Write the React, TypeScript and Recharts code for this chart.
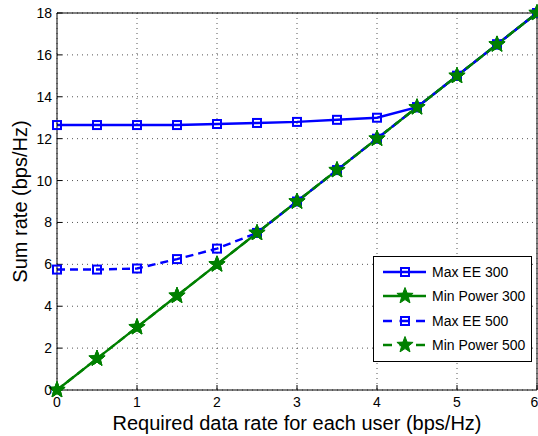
import React from "react";
import {
  LineChart,
  Line,
  XAxis,
  YAxis,
  CartesianGrid,
  Legend,
} from "recharts";

const rates = [0, 0.5, 1, 1.5, 2, 2.5, 3, 3.5, 4, 4.5, 5, 5.5, 6];
const maxEE300 = [12.65, 12.65, 12.65, 12.65, 12.7, 12.75, 12.8, 12.9, 13.0, 13.5, 15, 16.5, 18];
const minPower300 = [0, 1.5, 3, 4.5, 6, 7.5, 9, 10.5, 12, 13.5, 15, 16.5, 18];
const maxEE500 = [5.75, 5.75, 5.8, 6.25, 6.75, 7.5, 9, 10.5, 12, 13.5, 15, 16.5, 18];
const minPower500 = [0, 1.5, 3, 4.5, 6, 7.5, 9, 10.5, 12, 13.5, 15, 16.5, 18];

const xTicks = [0, 1, 2, 3, 4, 5, 6];
const yTicks = [0, 2, 4, 6, 8, 10, 12, 14, 16, 18];

const BLUE = "#0000ff";
const GREEN = "#008000";
const FONT = "'Liberation Sans', Arial, Helvetica, sans-serif";

const data = rates.map((x, i) => ({
  x,
  maxEE300: maxEE300[i],
  minPower300: minPower300[i],
  maxEE500: maxEE500[i],
  minPower500: minPower500[i],
}));

function starPoints(cx: number, cy: number, ro: number, ri: number) {
  const pts: string[] = [];
  for (let k = 0; k < 10; k++) {
    const r = k % 2 === 0 ? ro : ri;
    const a = -Math.PI / 2 + (k * Math.PI) / 5;
    pts.push(`${cx + r * Math.cos(a)},${cy + r * Math.sin(a)}`);
  }
  return pts.join(" ");
}

const SquareMark = ({ cx, cy, color }: { cx: number; cy: number; color: string }) => (
  <rect x={cx - 4} y={cy - 4} width={8} height={8} fill="none" stroke={color} strokeWidth={2} />
);

const StarMark = ({ cx, cy, color }: { cx: number; cy: number; color: string }) => (
  <polygon points={starPoints(cx, cy, 8.5, 3.6)} fill={color} stroke={color} strokeWidth={1} />
);

const series = [
  { key: "maxEE300", name: "Max EE 300", color: BLUE, dash: undefined as string | undefined, marker: "square" },
  { key: "minPower300", name: "Min Power 300", color: GREEN, dash: undefined as string | undefined, marker: "star" },
  { key: "maxEE500", name: "Max EE 500", color: BLUE, dash: "8 5", marker: "square" },
  { key: "minPower500", name: "Min Power 500", color: GREEN, dash: "8 5", marker: "star" },
];

const renderDot = (marker: string, color: string) => (props: any) => {
  const { cx, cy, index } = props;
  if (cx == null || cy == null) return <g key={index} />;
  return (
    <g key={index}>
      {marker === "square" ? (
        <SquareMark cx={cx} cy={cy} color={color} />
      ) : (
        <StarMark cx={cx} cy={cy} color={color} />
      )}
    </g>
  );
};

const LegendBox = () => (
  <div
    style={{
      border: "1px solid #000",
      background: "#fff",
      width: 157,
      height: 101,
      boxSizing: "content-box",
      paddingTop: 3,
      fontFamily: FONT,
      fontSize: 14,
      color: "#000",
    }}
  >
    {series.map((s) => (
      <div key={s.key} style={{ display: "flex", alignItems: "center", height: 24.3 }}>
        <svg width={58} height={20} style={{ flex: "none" }}>
          <line
            x1={9}
            y1={10}
            x2={52}
            y2={10}
            stroke={s.color}
            strokeWidth={2.4}
            strokeDasharray={s.dash ? "9 7.5" : undefined}
          />
          {s.marker === "square" ? (
            <SquareMark cx={31} cy={10} color={s.color} />
          ) : (
            <StarMark cx={31} cy={10} color={s.color} />
          )}
        </svg>
        <span style={{ whiteSpace: "nowrap" }}>{s.name}</span>
      </div>
    ))}
  </div>
);

const YLabel = (props: any) => {
  const vb = props.viewBox || {};
  const x = (vb.x ?? 0) + 20;
  const y = (vb.y ?? 0) + (vb.height ?? 0) / 2;
  return (
    <text
      x={x}
      y={y}
      transform={`rotate(-90, ${x}, ${y})`}
      textAnchor="middle"
      dominantBaseline="central"
      fontFamily={FONT}
      fontSize={20}
      fill="#000"
    >
      Sum rate (bps/Hz)
    </text>
  );
};

const XLabel = (props: any) => {
  const vb = props.viewBox || {};
  const x = (vb.x ?? 0) + (vb.width ?? 0) / 2;
  const y = (vb.y ?? 0) + 33;
  return (
    <text
      x={x}
      y={y}
      textAnchor="middle"
      dominantBaseline="central"
      fontFamily={FONT}
      fontSize={20}
      fill="#000"
    >
      Required data rate for each user (bps/Hz)
    </text>
  );
};

export default function App() {
  return (
    <div style={{ position: "absolute", left: 0, top: 0, width: 538, height: 436, background: "#fff" }}>
      <LineChart
        width={538}
        height={436}
        data={data}
        margin={{ top: 12, right: 0, bottom: 0, left: 0 }}
      >
        <CartesianGrid stroke="#555" strokeDasharray="1 4" />
        <XAxis
          dataKey="x"
          type="number"
          domain={[0, 6]}
          ticks={xTicks}
          height={46}
          stroke="#000"
          tickSize={-5}
          tickMargin={12}
          tick={{ fill: "#000", fontSize: 14, fontFamily: FONT }}
          label={<XLabel />}
        />
        <XAxis
          xAxisId="top"
          dataKey="x"
          type="number"
          orientation="top"
          domain={[0, 6]}
          ticks={xTicks}
          height={1}
          stroke="#000"
          tickSize={-5}
          tick={false}
        />
        <YAxis
          type="number"
          domain={[0, 18]}
          ticks={yTicks}
          width={57}
          stroke="#000"
          tickSize={-5}
          tickMargin={10}
          tick={{ fill: "#000", fontSize: 14, fontFamily: FONT }}
          label={<YLabel />}
        />
        <YAxis
          yAxisId="right"
          type="number"
          orientation="right"
          domain={[0, 18]}
          ticks={yTicks}
          width={1}
          stroke="#000"
          tickSize={-5}
          tick={false}
        />
        {series.map((s) => (
          <Line
            key={s.key}
            type="linear"
            dataKey={s.key}
            name={s.name}
            stroke={s.color}
            strokeWidth={2.4}
            strokeDasharray={s.dash}
            dot={renderDot(s.marker, s.color)}
            activeDot={false}
            isAnimationActive={false}
          />
        ))}
        <Legend
          layout="vertical"
          align="center"
          verticalAlign="middle"
          content={<LegendBox />}
          wrapperStyle={{ left: 373, top: 256, width: 159, height: 105 }}
        />
      </LineChart>
    </div>
  );
}
